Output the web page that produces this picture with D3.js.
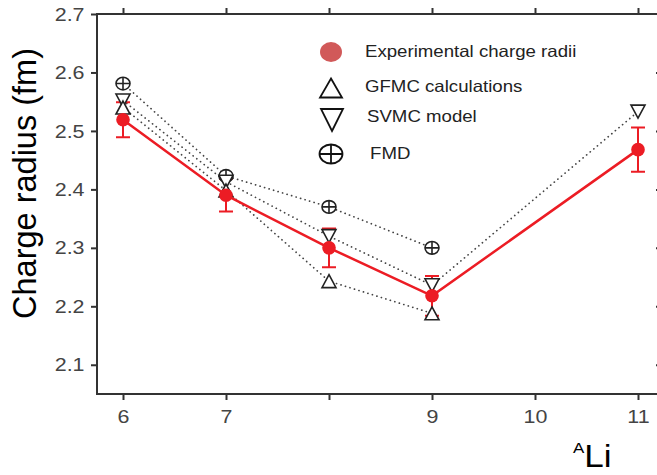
<!DOCTYPE html>
<html><head><meta charset="utf-8">
<script src="https://cdn.jsdelivr.net/npm/d3@7"></script>
<style>body{margin:0;background:#fff} svg{display:block} text{font-family:"Liberation Sans",Arial,sans-serif}</style>
</head><body><svg id="c" width="657" height="475"></svg>
<script>
// ---- data ----
const expA = [6, 7, 8, 9, 11];
const expRadius = [2.519, 2.390, 2.300, 2.218, 2.468];
const expError = [0.030, 0.028, 0.033, 0.034, 0.038];
const gfmcA = [6, 7, 8, 9];
const gfmcRadius = [2.540, 2.398, 2.243, 2.188];
const svmcA = [6, 7, 8, 9, 11];
const svmcRadius = [2.552, 2.413, 2.320, 2.236, 2.533];
const fmdA = [6, 7, 8, 9];
const fmdRadius = [2.581, 2.423, 2.370, 2.300];
const xTicks = [6, 7, 8, 9, 10, 11];
const xTickLabels = ["6", "7", "", "9", "10", "11"];
const yTicks = [2.1, 2.2, 2.3, 2.4, 2.5, 2.6, 2.7];
const legendLabels = ["Experimental charge radii", "GFMC calculations", "SVMC model", "FMD"];

const svg = d3.select("#c");
const L = 97, R = 661, T = 14, B = 394;
const SX = 1.13; // horizontal stretch of the reference
const x = d3.scaleLinear().domain([6, 11]).range([123, 638]);
const y = d3.scaleLinear().domain([2.05, 2.7]).range([B, T]);
const axisColor = "#333";
const red = "#ec1c24";

// axes
const gB = svg.append("g").attr("transform", `translate(0,${B})`)
  .call(d3.axisBottom(x).tickValues(xTicks).tickSize(6).tickPadding(10)
    .tickFormat((d, i) => xTickLabels[i]));
const gT = svg.append("g").attr("transform", `translate(0,${T})`)
  .call(d3.axisTop(x).tickValues(xTicks).tickSize(6).tickFormat(""));
const gL = svg.append("g").attr("transform", `translate(${L},0)`)
  .call(d3.axisLeft(y).tickValues(yTicks).tickSize(6).tickPadding(5).tickFormat(d3.format(".1f")));
const gR = svg.append("g").attr("transform", `translate(${R},0)`)
  .call(d3.axisLeft(y).tickValues(yTicks.slice(0, 6)).tickSize(5).tickFormat(""));
[gB, gT, gL, gR].forEach(g => {
  g.select(".domain").remove();
  g.selectAll("line").attr("stroke", axisColor).attr("stroke-width", 2);
  g.selectAll("text").attr("fill", "#444").style("font-size", "19px")
    .attr("transform", `scale(${SX},1)`);
});
svg.append("rect").attr("x", L).attr("y", T).attr("width", R - L).attr("height", B - T)
  .attr("fill", "none").attr("stroke", axisColor).attr("stroke-width", 2);

// dotted model lines
const line = d3.line().x(d => x(d[0])).y(d => y(d[1]));
function dotted(A, V) {
  svg.append("path").datum(A.map((a, i) => [a, V[i]])).attr("d", line)
    .attr("fill", "none").attr("stroke", "#444").attr("stroke-width", 1.7)
    .attr("stroke-linecap", "round").attr("stroke-dasharray", "0.1 4.6");
}
dotted(fmdA, fmdRadius);
dotted(svmcA, svmcRadius);
dotted(gfmcA, gfmcRadius);

// experimental error bars (beneath open markers)
expA.forEach((a, i) => {
  const cx = x(a), y1 = y(expRadius[i] + expError[i]), y2 = y(expRadius[i] - expError[i]);
  svg.append("path").attr("d", `M${cx},${y1}V${y2}M${cx - 7},${y1}H${cx + 7}M${cx - 7},${y2}H${cx + 7}`)
    .attr("stroke", red).attr("stroke-width", 2).attr("fill", "none");
});

// marker shapes
function triUp(g, w, h) {
  g.append("path").attr("d", `M0,${-h}L${w},${h}L${-w},${h}Z`);
}
function triDown(g, w, h) {
  g.append("path").attr("d", `M0,${h}L${w},${-h}L${-w},${-h}Z`);
}
function circPlus(g, w, h) {
  g.append("ellipse").attr("rx", w).attr("ry", h);
  g.append("path").attr("d", `M${-w},0H${w}M0,${-h}V${h}`);
}
function markers(A, V, shape, w, h) {
  A.forEach((a, i) => {
    const g = svg.append("g").attr("transform", `translate(${x(a)},${y(V[i])})`)
      .attr("fill", "#fff").attr("stroke", "#222").attr("stroke-width", 1.6);
    shape(g, w, h);
  });
}
markers(fmdA, fmdRadius, circPlus, 7, 6.3);
markers(svmcA, svmcRadius, triDown, 7, 6.5);
markers(gfmcA, gfmcRadius, triUp, 7, 6.5);

// experimental series
svg.append("path").datum(expA.map((a, i) => [a, expRadius[i]])).attr("d", line)
  .attr("fill", "none").attr("stroke", red).attr("stroke-width", 2.5);
expA.forEach((a, i) => {
  svg.append("circle").attr("cx", x(a)).attr("cy", y(expRadius[i])).attr("r", 6.8).attr("fill", red);
});

// legend
const lx = 331, ly = [52, 88, 120, 154], tx = [365, 365, 367, 370], tb = [57, 91.5, 122, 159];
svg.append("ellipse").attr("cx", lx).attr("cy", ly[0]).attr("rx", 11).attr("ry", 10).attr("fill", "#d15959");
const lg1 = svg.append("g").attr("transform", `translate(${lx},${ly[1]})`).attr("fill", "none").attr("stroke", "#111").attr("stroke-width", 1.8);
triUp(lg1, 11, 9.5);
const lg2 = svg.append("g").attr("transform", `translate(${lx + 1},${ly[2]})`).attr("fill", "none").attr("stroke", "#111").attr("stroke-width", 1.8);
triDown(lg2, 11, 11);
const lg3 = svg.append("g").attr("transform", `translate(${lx},${ly[3]})`).attr("fill", "none").attr("stroke", "#111").attr("stroke-width", 1.8);
circPlus(lg3, 11.5, 9.5);
legendLabels.forEach((t, i) => {
  svg.append("g").attr("transform", `translate(${tx[i]},${tb[i]}) scale(${SX},1)`)
    .append("text").text(t).attr("fill", "#222").style("font-size", "16.5px");
});

// axis titles
svg.append("text").attr("transform", "translate(36,183.5) rotate(-90)")
  .attr("text-anchor", "middle").style("font-size", "32.5px").attr("fill", "#000")
  .text("Charge radius (fm)");
const at = svg.append("g").attr("transform", `translate(573,467) scale(${SX},1)`)
  .append("text").attr("fill", "#000");
at.append("tspan").attr("dy", -14).style("font-size", "15px").text("A");
at.append("tspan").attr("dy", 14).style("font-size", "31px").text("Li");
</script></body></html>
